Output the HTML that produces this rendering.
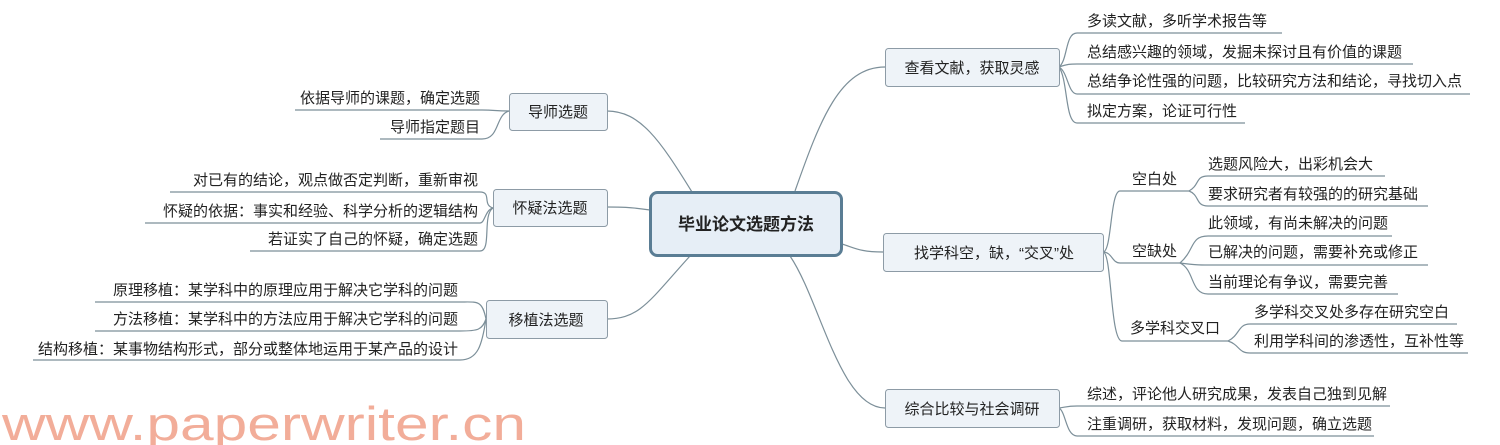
<!DOCTYPE html>
<html><head><meta charset="utf-8"><style>
html,body{margin:0;padding:0;background:#fff;width:1500px;height:445px;overflow:hidden}
text{font-family:"Liberation Sans","Noto Sans CJK SC",sans-serif;font-size:15px;fill:#222}
</style></head><body>
<svg width="1500" height="445" viewBox="0 0 1500 445" xmlns="http://www.w3.org/2000/svg">
<g fill="none" stroke="#7c8f99" stroke-width="1.2">
<path d="M692,192 C660,140 640,111 607,111"/>
<path d="M650,210 C630,207 620,207 607,207"/>
<path d="M690,256 C650,300 640,319 607,319"/>
<path d="M795,191 C820,120 840,67 885,67"/>
<path d="M842,244 C855,248 860,252 883,252"/>
<path d="M790,256 C820,300 840,408 885,408"/>
<path d="M509,111 C495,111 495,110 482,110 L295,110"/>
<path d="M509,111 C495,115 500,139 482,139 L380,139"/>
<path d="M493,208 C482,205 492,192 480,192 L170,192"/>
<path d="M493,208 C485,210 485,223 480,223 L145,223"/>
<path d="M493,208 C482,215 492,251 480,251 L250,251"/>
<path d="M486,319 C482,300 478,302 460,302 L95,302"/>
<path d="M486,319 C482,330 478,331 460,331 L95,331"/>
<path d="M486,319 C482,345 478,360 460,360 L33,360"/>
<path d="M1059,67 C1068,60 1065,33 1077,33 L1282,33"/>
<path d="M1059,67 C1068,64 1070,64 1077,64 L1413,64"/>
<path d="M1059,67 C1068,72 1068,94 1077,94 L1470,94"/>
<path d="M1059,67 C1068,80 1065,123 1077,123 L1245,123"/>
<path d="M1103,252 C1112,252 1110,191 1120,191 L1189,191"/>
<path d="M1103,252 C1112,252 1112,263 1120,263 L1180,263"/>
<path d="M1103,252 C1112,252 1110,341 1122,341 L1228,341"/>
<path d="M1189,191 C1200,185 1195,176 1208,176 L1385,176"/>
<path d="M1189,191 C1200,195 1195,206 1208,206 L1428,206"/>
<path d="M1180,263 C1195,250 1190,236 1208,236 L1392,236"/>
<path d="M1180,263 C1195,265 1200,265 1208,265 L1428,265"/>
<path d="M1180,263 C1195,270 1190,294 1208,294 L1398,294"/>
<path d="M1228,341 C1240,335 1238,324 1250,324 L1457,324"/>
<path d="M1228,341 C1240,345 1238,353 1250,353 L1468,353"/>
<path d="M1059,408 C1066,407 1068,406 1077,406 L1390,406"/>
<path d="M1059,408 C1066,412 1066,436 1077,436 L1374,436"/>
</g>
<g fill="#eef3f8" stroke="#8d9ba6" stroke-width="1">
<rect x="509.5" y="93.5" width="98" height="37" rx="3"/>
<rect x="493.5" y="189.5" width="114" height="37" rx="3"/>
<rect x="486.5" y="300.5" width="121" height="38" rx="3"/>
<rect x="885.5" y="48.5" width="174" height="38" rx="3"/>
<rect x="883.5" y="233.5" width="220" height="38" rx="3"/>
<rect x="885.5" y="389.5" width="174" height="38" rx="3"/>
</g>
<rect x="650.5" y="192.5" width="191" height="63" rx="7" fill="#e6eef6" stroke="#5a7d94" stroke-width="3"/>
<text x="746" y="230" text-anchor="middle" style="font-size:17px;font-weight:bold">毕业论文选题方法</text>
<g text-anchor="middle">
<text x="558" y="117">导师选题</text>
<text x="550" y="213">怀疑法选题</text>
<text x="546" y="325">移植法选题</text>
<text x="972" y="73">查看文献，获取灵感</text>
<text x="994" y="258">找学科空，缺，“交叉”处</text>
<text x="972" y="414">综合比较与社会调研</text>
</g>
<g text-anchor="end">
<text x="480" y="103">依据导师的课题，确定选题</text>
<text x="480" y="132">导师指定题目</text>
<text x="478" y="185">对已有的结论，观点做否定判断，重新审视</text>
<text x="478" y="216">怀疑的依据：事实和经验、科学分析的逻辑结构</text>
<text x="478" y="244">若证实了自己的怀疑，确定选题</text>
<text x="458" y="295">原理移植：某学科中的原理应用于解决它学科的问题</text>
<text x="458" y="324">方法移植：某学科中的方法应用于解决它学科的问题</text>
<text x="458" y="354">结构移植：某事物结构形式，部分或整体地运用于某产品的设计</text>
</g>
<text x="1087" y="26">多读文献，多听学术报告等</text>
<text x="1087" y="57">总结感兴趣的领域，发掘未探讨且有价值的课题</text>
<text x="1087" y="86">总结争论性强的问题，比较研究方法和结论，寻找切入点</text>
<text x="1087" y="116">拟定方案，论证可行性</text>
<text x="1132" y="184">空白处</text>
<text x="1132" y="256">空缺处</text>
<text x="1130" y="333">多学科交叉口</text>
<text x="1208" y="169">选题风险大，出彩机会大</text>
<text x="1208" y="199">要求研究者有较强的的研究基础</text>
<text x="1208" y="228">此领域，有尚未解决的问题</text>
<text x="1208" y="257">已解决的问题，需要补充或修正</text>
<text x="1208" y="287">当前理论有争议，需要完善</text>
<text x="1254" y="317">多学科交叉处多存在研究空白</text>
<text x="1254" y="346">利用学科间的渗透性，互补性等</text>
<text x="1087" y="399">综述，评论他人研究成果，发表自己独到见解</text>
<text x="1087" y="429">注重调研，获取材料，发现问题，确立选题</text>
<text x="2" y="440" style="font-size:47px;fill:#f2ad99" textLength="524" lengthAdjust="spacingAndGlyphs">www.paperwriter.cn</text>
</svg>
</body></html>
